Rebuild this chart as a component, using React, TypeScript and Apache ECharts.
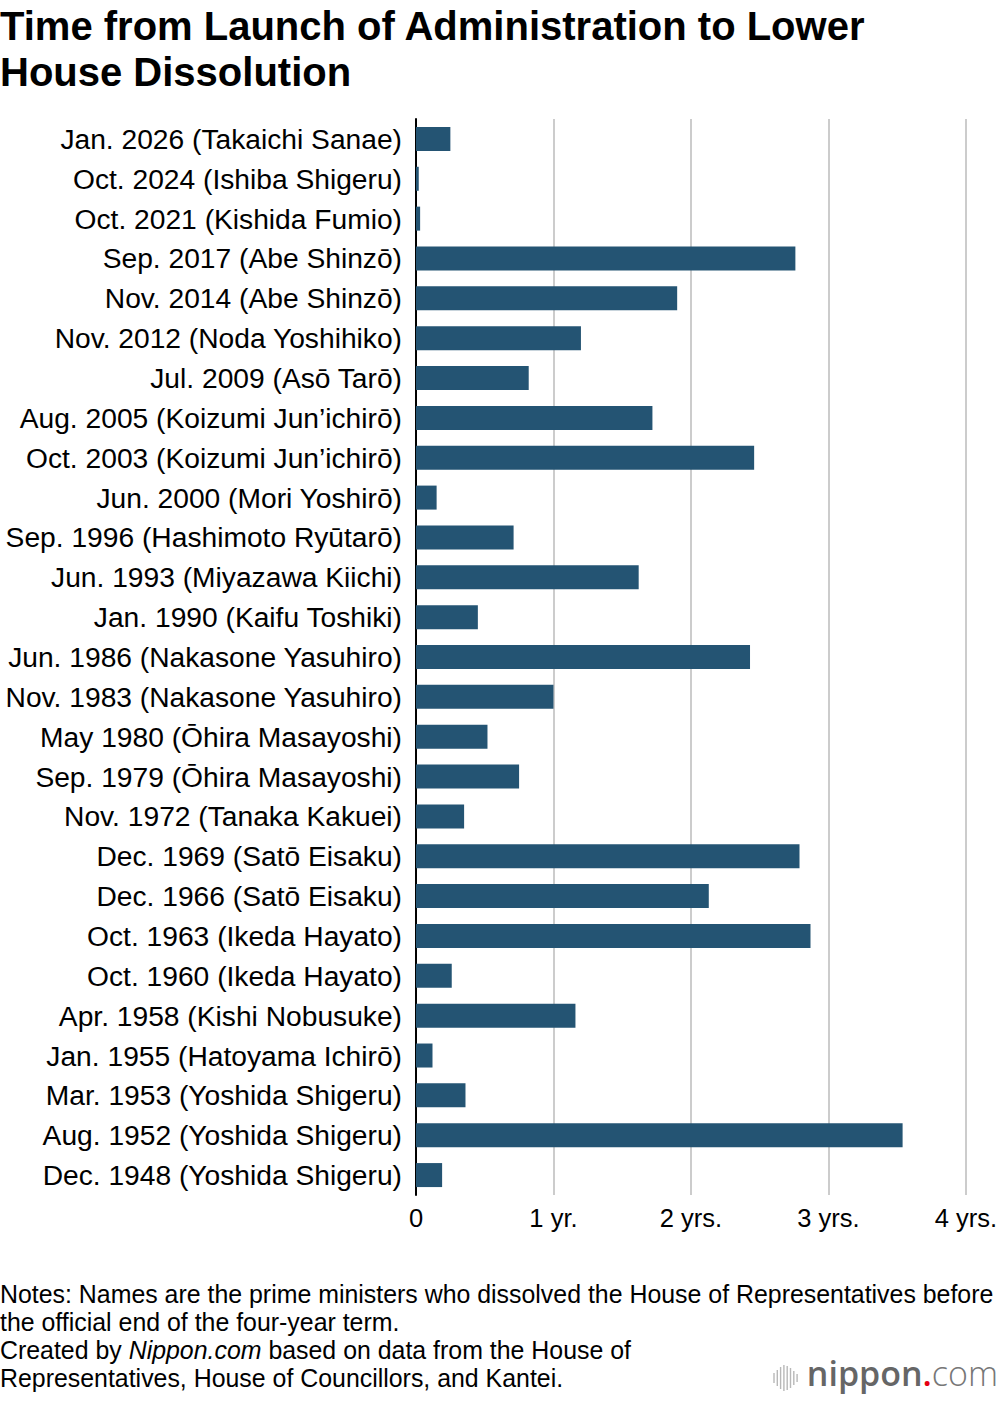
import * as echarts from "echarts";
import { useEffect, useRef } from "react";

const categories = [
  "Jan. 2026 (Takaichi Sanae)",
  "Oct. 2024 (Ishiba Shigeru)",
  "Oct. 2021 (Kishida Fumio)",
  "Sep. 2017 (Abe Shinzō)",
  "Nov. 2014 (Abe Shinzō)",
  "Nov. 2012 (Noda Yoshihiko)",
  "Jul. 2009 (Asō Tarō)",
  "Aug. 2005 (Koizumi Jun’ichirō)",
  "Oct. 2003 (Koizumi Jun’ichirō)",
  "Jun. 2000 (Mori Yoshirō)",
  "Sep. 1996 (Hashimoto Ryūtarō)",
  "Jun. 1993 (Miyazawa Kiichi)",
  "Jan. 1990 (Kaifu Toshiki)",
  "Jun. 1986 (Nakasone Yasuhiro)",
  "Nov. 1983 (Nakasone Yasuhiro)",
  "May 1980 (Ōhira Masayoshi)",
  "Sep. 1979 (Ōhira Masayoshi)",
  "Nov. 1972 (Tanaka Kakuei)",
  "Dec. 1969 (Satō Eisaku)",
  "Dec. 1966 (Satō Eisaku)",
  "Oct. 1963 (Ikeda Hayato)",
  "Oct. 1960 (Ikeda Hayato)",
  "Apr. 1958 (Kishi Nobusuke)",
  "Jan. 1955 (Hatoyama Ichirō)",
  "Mar. 1953 (Yoshida Shigeru)",
  "Aug. 1952 (Yoshida Shigeru)",
  "Dec. 1948 (Yoshida Shigeru)",
];

// years from launch of administration to dissolution
const years = [
  0.25, 0.02, 0.03, 2.76, 1.9, 1.2, 0.82, 1.72, 2.46, 0.15, 0.71, 1.62, 0.45,
  2.43, 1.0, 0.52, 0.75, 0.35, 2.79, 2.13, 2.87, 0.26, 1.16, 0.12, 0.36, 3.54,
  0.19,
];

const tickLabels = ["0", "1 yr.", "2 yrs.", "3 yrs.", "4 yrs."];

const noteLines = [
  "Notes: Names are the prime ministers who dissolved the House of Representatives before",
  "the official end of the four-year term.",
  "Created by {i|Nippon.com} based on data from the House of",
  "Representatives, House of Councillors, and Kantei.",
];

const logoBars = [10, 16, 22, 26, 24, 20, 14, 8];

const FONT = "'Liberation Sans', Arial, Helvetica, sans-serif";

const App = () => {
  const chartRef = useRef<HTMLDivElement>(null);

  useEffect(() => {
    if (!chartRef.current) return;
    const chart = echarts.init(chartRef.current, null, { renderer: "svg" });

    const notes = noteLines.map((line, i) => ({
      type: "text",
      left: 0,
      top: 1281 + i * 28,
      style: {
        text: line,
        font: `24.9px ${FONT}`,
        fill: "#000",
        rich: {
          i: { fontStyle: "italic", fontSize: 24.9, fontFamily: FONT, fill: "#000" },
        },
      },
    }));

    const bars = logoBars.map((h, i) => ({
      type: "line",
      shape: { x1: 774 + i * 3.3, y1: 1378 - h / 2, x2: 774 + i * 3.3, y2: 1378 + h / 2 },
      style: { stroke: "#b8b8b8", lineWidth: 1.4 },
    }));

    chart.setOption({
      animation: false,
      title: {
        text: "Time from Launch of Administration to Lower\nHouse Dissolution",
        left: 0,
        top: 3,
        padding: 0,
        textStyle: {
          fontFamily: FONT,
          fontWeight: "bold",
          fontSize: 40,
          lineHeight: 46,
          color: "#000",
        },
      },
      grid: { left: 416, right: 31, top: 119, bottom: 207, containLabel: false },
      xAxis: {
        type: "value",
        min: 0,
        max: 4,
        interval: 1,
        axisLine: { show: false },
        axisTick: { show: false },
        splitLine: { lineStyle: { color: "#cccccc", width: 2 } },
        axisLabel: {
          margin: 10,
          fontFamily: FONT,
          fontSize: 25.5,
          color: "#000",
          formatter: (v: number) => tickLabels[Math.round(v)] ?? "",
        },
      },
      yAxis: {
        type: "category",
        data: categories,
        inverse: true,
        axisLine: { lineStyle: { color: "#000", width: 2 } },
        axisTick: { show: false },
        axisLabel: {
          margin: 14,
          fontFamily: FONT,
          fontSize: 28.2,
          color: "#000",
        },
      },
      series: [
        {
          type: "bar",
          data: years,
          barWidth: 24,
          itemStyle: { color: "#245473" },
        },
      ],
      graphic: [
        ...notes,
        ...bars,
        {
          type: "text",
          right: 2,
          top: 1356,
          style: {
            text: "{a|nippon}{b|.}{c|com}",
            rich: {
              a: { fontFamily: "'Open Sans', sans-serif", fontWeight: 600, fontSize: 34, fill: "#666" },
              b: { fontFamily: "'Open Sans', sans-serif", fontWeight: 600, fontSize: 34, fill: "#e60012" },
              c: { fontFamily: "'Open Sans', sans-serif", fontWeight: 300, fontSize: 34, fill: "#777" },
            },
          },
        },
      ],
    });

    return () => {
      chart.dispose();
    };
  }, []);

  return (
    <div
      ref={chartRef}
      style={{ position: "absolute", left: 0, top: 0, width: "1000px", height: "1402px" }}
    />
  );
};

export default App;
